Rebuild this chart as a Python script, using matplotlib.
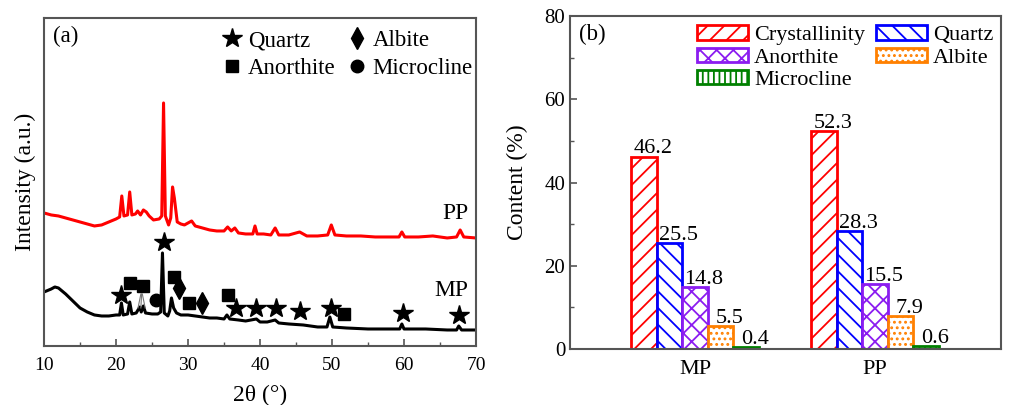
import matplotlib.pyplot as plt
from matplotlib.lines import Line2D
from matplotlib.ticker import MultipleLocator
import numpy as np

plt.rcParams['font.family'] = ['Liberation Serif', 'DejaVu Serif']
plt.rcParams['hatch.linewidth'] = 1.3

# ---- (a) XRD patterns (arbitrary units) ----
tt_pp = [10, 11, 12, 13, 14, 15, 16, 17, 18, 19, 20, 20.5, 20.8, 21.1, 21.6, 21.9, 22.2,
         22.7, 23.0, 23.4, 23.8, 24.2, 24.6, 25.2, 26.0, 26.35, 26.6, 26.85, 27.3, 27.6,
         27.85, 28.1, 28.5, 29.0, 29.5, 30.0, 30.5, 31.0, 32, 33, 34, 35, 35.5, 36, 36.5,
         37, 38, 39, 39.3, 39.6, 40.5, 41.5, 42.1, 42.6, 44, 45.5, 46.5, 48, 49.4, 49.9,
         50.4, 52, 54, 56, 58, 59.3, 59.7, 60.1, 62, 64, 66, 67.3, 67.8, 68.3, 70]
int_pp = [133, 131, 130, 128, 126, 124, 122, 120, 121, 124, 127, 129, 150, 130, 131, 154, 131,
          132, 135, 131, 136, 134, 130, 126, 127, 130, 243, 130, 121, 128,
          159, 148, 124, 122, 121, 123, 125, 120, 118, 116, 115, 115, 119, 115, 118,
          113, 112, 112, 120, 112, 112, 111, 118, 111, 111, 114, 110, 110, 111, 121,
          111, 110, 110, 109, 109, 109, 114, 109, 109, 110, 108, 109, 116, 109, 108]

tt_mp = [10, 11, 11.5, 12, 13, 14, 15, 16, 17, 18, 19, 20, 20.5, 20.75, 21.0, 21.6, 21.9, 22.2,
         22.8, 23.3, 23.5, 23.8, 24.1, 25.0, 25.8, 26.2, 26.45, 26.7, 27.2, 27.45, 27.7, 28.0,
         28.4, 29, 30, 31, 32, 33, 34, 35, 35.4, 35.8, 37, 38, 39.5, 40, 41, 42.1, 42.6, 44,
         46, 48, 49.3, 49.7, 50.1, 52, 55, 58, 59.4, 59.7, 60.0, 63, 66, 67.3, 67.6, 68.0, 70]
int_mp = [54, 57, 59, 58, 52, 45, 38, 34, 31, 30, 30, 31, 31, 43, 31, 32, 44, 32,
          33, 39, 34, 40, 33, 32, 32, 34, 93, 33, 30, 35, 48, 38,
          33, 31, 31, 30, 29, 28, 28, 27, 31, 27, 26, 25, 27, 24, 24, 26, 23, 22,
          21, 19, 19, 29, 19, 18, 17, 17, 17, 22, 17, 17, 16, 16, 20, 16, 16]

# phase markers on the MP pattern
quartz_x = [20.7, 26.7, 36.6, 39.5, 42.2, 45.6, 49.8, 59.8, 67.7]
quartz_y = [51, 104, 38, 38, 38, 35, 38, 33, 31]
anorthite_x = [22.0, 23.8, 28.0, 30.2, 35.5, 51.7]
anorthite_y = [63, 60, 69, 43, 51, 32]
albite_x = [28.8, 31.9]
albite_y = [58, 43]
microcline_x = [25.5]
microcline_y = [46]
pointer_x = [[23.45, 23.05], [23.55, 23.45], [23.65, 24.05]]
pointer_y = [[52, 38], [52, 38], [52, 38]]

# ---- (b) phase content ----
samples = ['MP', 'PP']
phases = ['Crystallinity', 'Quartz', 'Anorthite', 'Albite', 'Microcline']
content = {
    'Crystallinity': [46.2, 52.3],
    'Quartz': [25.5, 28.3],
    'Anorthite': [14.8, 15.5],
    'Albite': [5.5, 7.9],
    'Microcline': [0.4, 0.6],
}
colors = ['#ff0000', '#0000ff', '#8b1cf0', '#ff8000', '#008000']
hatches = ['//', '\\\\', 'xx', '...', '|||']

fig = plt.figure(figsize=(10.1, 4.05), dpi=100)
spine_c = '#555555'

# ---------------- panel (a) ----------------
ax1 = fig.add_axes([0.0436, 0.1457, 0.4277, 0.81])
ax1.plot(tt_pp, int_pp, color='red', lw=2.2)
ax1.plot(tt_mp, int_mp, color='black', lw=2.2)
ax1.plot(quartz_x, quartz_y, '*', color='black', ms=15, ls='none')
ax1.plot(anorthite_x, anorthite_y, 's', color='black', ms=9, ls='none')
ax1.plot(albite_x, albite_y, 'd', color='black', ms=11, ls='none')
ax1.plot(microcline_x, microcline_y, 'o', color='black', ms=9, ls='none')
for px, py in zip(pointer_x, pointer_y):
    ax1.plot(px, py, color='#777777', lw=0.8)

ax1.set_xlim(10, 70)
ax1.set_ylim(0, 328)
ax1.set_yticks([])
ax1.xaxis.set_major_locator(MultipleLocator(10))
ax1.xaxis.set_minor_locator(MultipleLocator(5))
ax1.tick_params(axis='x', which='both', direction='in', labelsize=14, colors=spine_c,
                labelcolor='black', pad=8)
ax1.tick_params(axis='x', which='major', length=5, width=1.2)
ax1.tick_params(axis='x', which='minor', length=3, width=1.0)
ax1.set_xlabel('2θ (°)', fontsize=17, labelpad=8)
ax1.set_ylabel('Intensity (a.u.)', fontsize=17, labelpad=6)
for s in ax1.spines.values():
    s.set_color(spine_c)
    s.set_linewidth(1.5)
ax1.text(0.02, 0.945, '(a)', transform=ax1.transAxes, fontsize=16.5, va='center')
ax1.text(0.982, 0.405, 'PP', transform=ax1.transAxes, fontsize=17, ha='right', va='center')
ax1.text(0.982, 0.17, 'MP', transform=ax1.transAxes, fontsize=17, ha='right', va='center')

leg_handles = [
    Line2D([], [], marker='*', color='black', ls='none', ms=15, label='Quartz'),
    Line2D([], [], marker='s', color='black', ls='none', ms=9, label='Anorthite'),
    Line2D([], [], marker='d', color='black', ls='none', ms=11, label='Albite'),
    Line2D([], [], marker='o', color='black', ls='none', ms=9, label='Microcline'),
]
ax1.legend(handles=leg_handles, ncol=2, loc='upper right', bbox_to_anchor=(1.04, 1.025),
           frameon=False, fontsize=16.5, handlelength=0.8, handletextpad=0.3,
           columnspacing=0.5, labelspacing=0.28)

# ---------------- panel (b) ----------------
ax2 = fig.add_axes([0.5644, 0.1383, 0.4267, 0.822])
x = np.arange(len(samples))
w = 0.142
for i, ph in enumerate(phases):
    xs = x + (i - 2) * w
    vals = content[ph]
    ax2.bar(xs, vals, width=w, color='white', edgecolor=colors[i], hatch=hatches[i],
            lw=2, label=ph, zorder=2)
    for xi, v in zip(xs, vals):
        ax2.text(xi + 0.05, v - 0.4, f'{v}', ha='center', va='bottom', fontsize=16)

ax2.set_xlim(-0.695, 1.7)
ax2.set_ylim(0, 80)
ax2.set_xticks(x)
ax2.set_xticklabels(samples)
ax2.yaxis.set_major_locator(MultipleLocator(20))
ax2.yaxis.set_minor_locator(MultipleLocator(10))
ax2.tick_params(axis='y', which='both', direction='in', labelsize=15, colors=spine_c,
                labelcolor='black')
ax2.tick_params(axis='y', which='major', length=5, width=1.2)
ax2.tick_params(axis='y', which='minor', length=3, width=1.0)
ax2.tick_params(axis='x', length=0, labelsize=16, pad=8)
ax2.set_ylabel('Content (%)', fontsize=17, labelpad=12)
for s in ax2.spines.values():
    s.set_color(spine_c)
    s.set_linewidth(1.5)
ax2.text(0.02, 0.945, '(b)', transform=ax2.transAxes, fontsize=16.5, va='center')

h, l = ax2.get_legend_handles_labels()
order = [0, 2, 4, 1, 3]
ax2.legend([h[k] for k in order], [l[k] for k in order], ncol=2, loc='upper right',
           bbox_to_anchor=(1.028, 1.032), frameon=False, fontsize=16, handlelength=2.3,
           handleheight=0.62, handletextpad=0.25, columnspacing=0.5, labelspacing=0.1)

fig.savefig('out.png', dpi=100)
